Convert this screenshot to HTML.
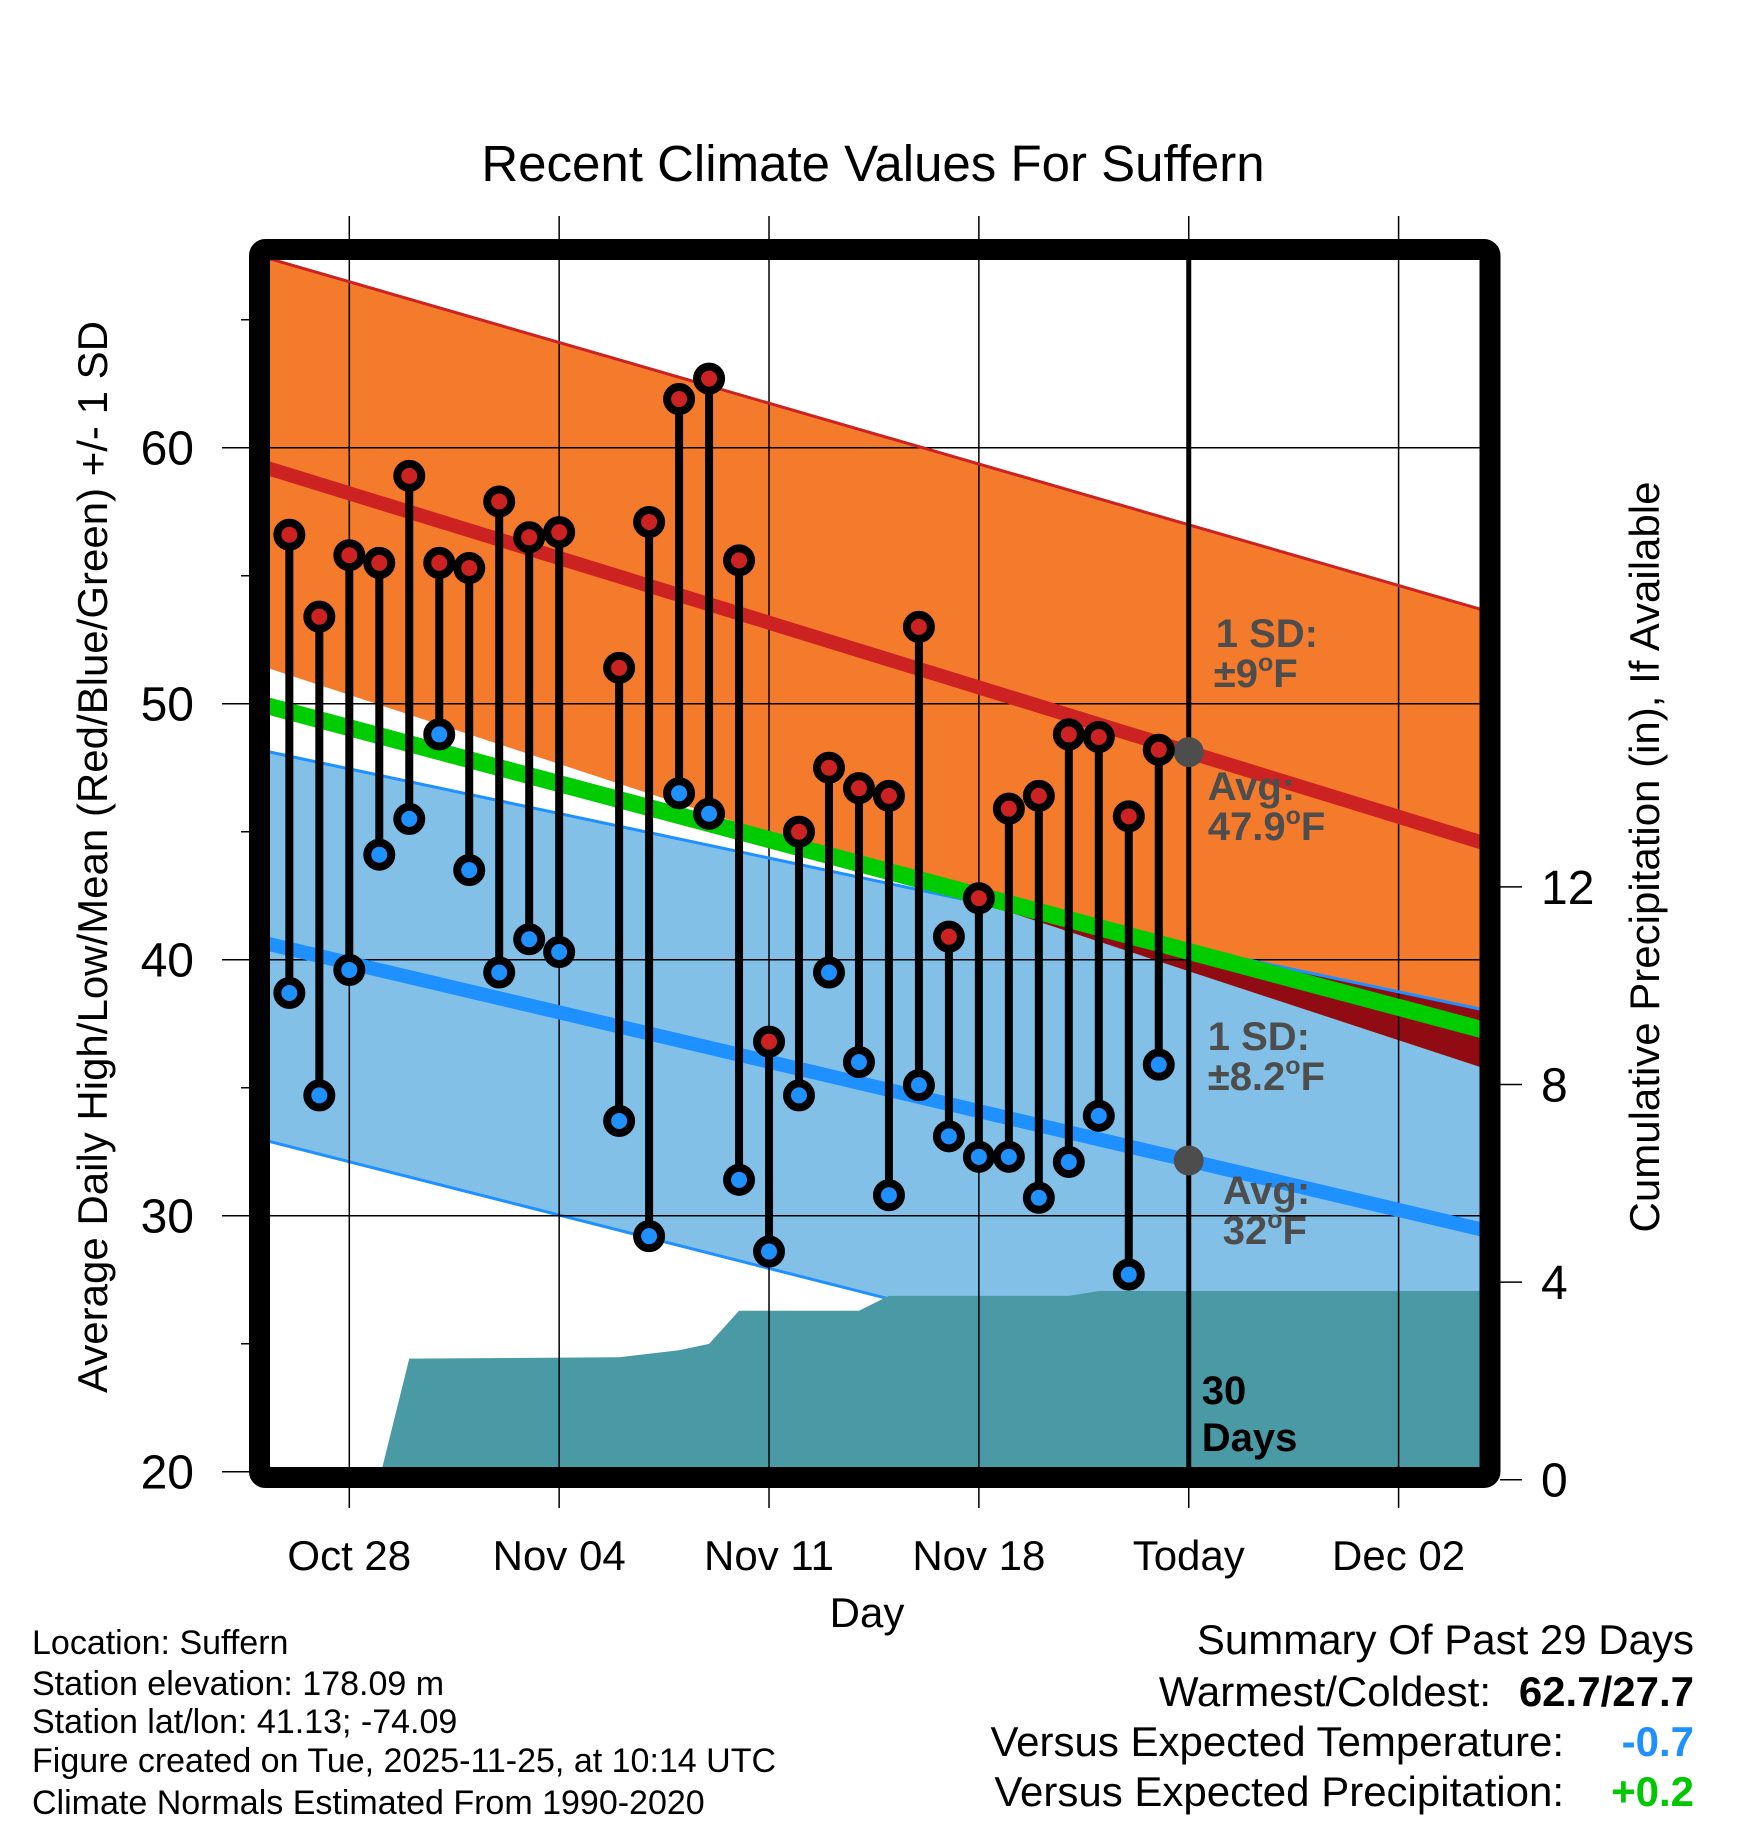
<!DOCTYPE html>
<html><head><meta charset="utf-8"><style>
html,body{margin:0;padding:0;background:#fff}
svg{display:block;font-family:"Liberation Sans",Arial,sans-serif}
</style></head><body>
<svg id="chart" width="1748" height="1828" viewBox="0 0 1748 1828" xmlns="http://www.w3.org/2000/svg">
<defs><clipPath id="plotclip"><rect x="260" y="250" width="1230" height="1227"/></clipPath></defs>
<text x="873" y="181" font-size="51" text-anchor="middle">Recent Climate Values For Suffern</text>
<g id="fills" clip-path="url(#plotclip)"></g>
<g id="grid"></g>
<g id="lines" clip-path="url(#plotclip)"></g>
<g id="annot"></g>
<g id="marks"></g>
<rect x="259.5" y="249.5" width="1230.5" height="1228" fill="none" stroke="#000" stroke-width="21" rx="6"/>
<g id="axes"></g>
<text transform="translate(107,857) rotate(-90)" font-size="42" text-anchor="middle">Average Daily High/Low/Mean (Red/Blue/Green) +/- 1 SD</text>
<text transform="translate(1659,857) rotate(-90)" font-size="42" text-anchor="middle">Cumulative Precipitation (in), If Available</text>
<text x="867" y="1627" font-size="42" text-anchor="middle">Day</text>
<g font-size="34">
<text x="32" y="1654">Location: Suffern</text>
<text x="32" y="1695">Station elevation: 178.09 m</text>
<text x="32" y="1733">Station lat/lon: 41.13; -74.09</text>
<text x="32" y="1772">Figure created on Tue, 2025-11-25, at 10:14 UTC</text>
<text x="32" y="1814">Climate Normals Estimated From 1990-2020</text>
</g>
<g font-size="42">
<text x="1694" y="1654" text-anchor="end">Summary Of Past 29 Days</text>
<text x="1491" y="1706" text-anchor="end">Warmest/Coldest:</text>
<text x="1694" y="1706" text-anchor="end" font-weight="bold">62.7/27.7</text>
<text x="1564" y="1756" text-anchor="end">Versus Expected Temperature:</text>
<text x="1694" y="1756" text-anchor="end" font-weight="bold" fill="#1e90ff">-0.7</text>
<text x="1564" y="1806" text-anchor="end">Versus Expected Precipitation:</text>
<text x="1694" y="1806" text-anchor="end" font-weight="bold" fill="#00c800">+0.2</text>
</g>
</svg>
<script>
// day offsets from Oct 25
const obsDays = [1,2,3,4,5,6,7,8,9,10,12,13,14,15,16,17,18,19,20,21,22,23,24,25,26,27,28,29,30];
const highs = [56.6,53.4,55.8,55.5,58.9,55.5,55.3,57.9,56.5,56.7,51.4,57.1,61.9,62.7,55.6,36.8,45.0,47.5,46.7,46.4,53.0,40.9,42.4,45.9,46.4,48.8,48.7,45.6,48.2];
const lows = [38.7,34.7,39.6,44.1,45.5,48.8,43.5,39.5,40.8,40.3,33.7,29.2,46.5,45.7,31.4,28.6,34.7,39.5,36.0,30.8,35.1,33.1,32.3,32.3,30.7,32.1,33.9,27.7,35.9];
const precipDays = [4,5,12,13,14,15,16,20,21,27,28,41];
const precipVals = [0,2.45,2.48,2.55,2.62,2.75,3.42,3.42,3.72,3.72,3.82,3.82];
const normDays = [0,41];
const normHigh = [59.3,44.5];
const normHighSDTop = [67.5,53.6];
const normHighSDBot = [51.5,35.7];
const normMean = [50.0,37.2];
const normLow = [40.7,29.4];
const normLowSDTop = [48.2,38.0];
const normLowSDBot = [33.0,20.8];
const xTickDays = [3,10,17,24,31,38];
const xTickLabels = ["Oct 28","Nov 04","Nov 11","Nov 18","Today","Dec 02"];
const yTicks = [20,30,40,50,60];
const y2Ticks = [0,4,8,12];

const NS="http://www.w3.org/2000/svg";
const X=d=>349.3+(d-3)*29.98;
const Y=v=>447.7-(v-60)*25.6;
const Y2=p=>1479.7-p*49.4;
function mk(parent,tag,attrs){const e=document.createElementNS(NS,tag);for(const k in attrs)e.setAttribute(k,attrs[k]);document.getElementById(parent).appendChild(e);return e;}
function band(top,bot){return `M${X(normDays[0])},${Y(top[0])} L${X(normDays[1])},${Y(top[1])} L${X(normDays[1])},${Y(bot[1])} L${X(normDays[0])},${Y(bot[0])}Z`;}

let e;
e=mk('fills','path',{d:band(normLowSDTop,normLowSDBot),fill:'#82c0e8'});


e=mk('fills','path',{d:band(normHighSDTop,normHighSDBot),fill:'#f47a2c'});


const cp=mk('fills','clipPath',{id:'hiclip'});
const cpp=document.createElementNS(NS,'path');cpp.setAttribute('d',band(normHighSDTop,normHighSDBot));cp.appendChild(cpp);
e=mk('fills','path',{d:band(normLowSDTop,normLowSDBot),fill:'#900c12','clip-path':'url(#hiclip)'});


e=mk('fills','line',{x1:X(normDays[0]),y1:Y(normLowSDBot[0]),x2:X(normDays[1]),y2:Y(normLowSDBot[1]),stroke:'#1e90ff','stroke-width':3});


// precip area
let pd=`M${X(precipDays[0])},${Y2(0)}`;
precipDays.forEach((d,i)=>{pd+=` L${X(d)},${Y2(precipVals[i])}`;});
pd+=` L${X(precipDays[precipDays.length-1])},${Y2(0)}Z`;
e=mk('fills','path',{d:pd,fill:'#4a9aa5'});



// grid
xTickDays.forEach((d,i)=>{
  e=mk('grid','line',{x1:X(d),x2:X(d),y1:216,y2:1508,stroke:'#000','stroke-width':1.5});
  
  
  e=mk('axes','text',{x:X(d),y:1570,'font-size':42,'text-anchor':'middle'});
  e.textContent=xTickLabels[i];
  
  
});
yTicks.forEach(v=>{
  e=mk('grid','line',{x1:222,x2:1490,y1:Y(v),y2:Y(v),stroke:'#000','stroke-width':1.5});
  
  
  e=mk('axes','text',{x:194,y:Y(v)+17,'font-size':48,'text-anchor':'end'});
  e.textContent=v;
  
  
});
[25,35,45,55,65].forEach(v=>{
  e=mk('grid','line',{x1:241,x2:260,y1:Y(v),y2:Y(v),stroke:'#000','stroke-width':1.5});
  
  
});
y2Ticks.forEach(p=>{
  e=mk('axes','line',{x1:1500,x2:1522,y1:Y2(p),y2:Y2(p),stroke:'#000','stroke-width':1.5});
  
  
  e=mk('axes','text',{x:1541,y:Y2(p)+17,'font-size':48,'text-anchor':'start'});
  e.textContent=p;
  
  
});

function ln(arr,color,w,name){
  const el=mk('lines','line',{x1:X(normDays[0]),y1:Y(arr[0]),x2:X(normDays[1]),y2:Y(arr[1]),stroke:color,'stroke-width':w});
  
  
}
ln(normHighSDTop,'#cc2222',3,'high-sd-top-line');
ln(normLowSDTop,'#1e90ff',3,'low-sd-top-line');
ln(normMean,'#00cc00',17,'mean-normal-line');
ln(normHigh,'#cc2222',14,'high-normal-line');
ln(normLow,'#1e90ff',14,'low-normal-line');

// today line
e=mk('annot','line',{x1:X(31),x2:X(31),y1:255,y2:1470,stroke:'#000','stroke-width':5});



// stems & markers
obsDays.forEach((d,i)=>{
  e=mk('marks','line',{x1:X(d),x2:X(d),y1:Y(highs[i]),y2:Y(lows[i]),stroke:'#000','stroke-width':8});
  
  
});
obsDays.forEach((d,i)=>{
  e=mk('marks','circle',{cx:X(d),cy:Y(highs[i]),r:12,fill:'#cc2222',stroke:'#000','stroke-width':8});
  
  
  e=mk('marks','circle',{cx:X(d),cy:Y(lows[i]),r:12,fill:'#1e90ff',stroke:'#000','stroke-width':8});
  
  
});

// today avg dots
const hiToday=normHigh[0]+(normHigh[1]-normHigh[0])*31/41;
const loToday=normLow[0]+(normLow[1]-normLow[0])*31/41;
e=mk('annot','circle',{cx:X(31),cy:Y(hiToday),r:15,fill:'#4d4d4d'});


e=mk('annot','circle',{cx:X(31),cy:Y(loToday),r:15,fill:'#4d4d4d'});



const TX=X(31);
function lab(dx,y,txt,name,fill){
  const t=mk('annot','text',{x:TX+dx,y:y,'font-size':40,'font-weight':'bold',fill:fill||'#4d4d4d'});
  t.innerHTML=txt;
  
  
}
const deg='<tspan font-size="25" dy="-16">o</tspan><tspan dy="16">F</tspan>';
lab(27,647,'1 SD:','high-sd-label');
lab(25,687,'±9'+deg,'high-sd-value');
lab(19,800,'Avg:','high-avg-label');
lab(19,840,'47.9'+deg,'high-avg-value');
lab(19,1050,'1 SD:','low-sd-label');
lab(19,1090,'±8.2'+deg,'low-sd-value');
lab(34,1204,'Avg:','low-avg-label');
lab(34,1244,'32'+deg,'low-avg-value');
lab(13,1404,'30','days-count','#000');
lab(13,1451,'Days','days-label','#000');
</script>
</body></html>
